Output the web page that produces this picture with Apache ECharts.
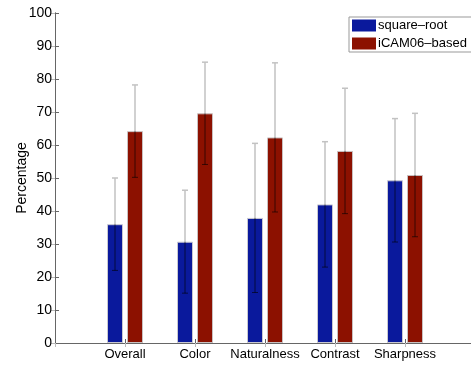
<!DOCTYPE html>
<html>
<head>
<meta charset="utf-8">
<script src="https://cdn.jsdelivr.net/npm/echarts@6/dist/echarts.min.js"></script>
<style>html,body{margin:0;padding:0;background:#fff}#c{width:471px;height:367px}</style>
</head>
<body>
<div id="c"></div>
<script>
const categories = ['Overall', 'Color', 'Naturalness', 'Contrast', 'Sharpness'];
const squareRoot = [36, 30.7, 37.9, 42, 49.3];
const squareRootErr = [14, 15.6, 22.6, 19, 18.7];
const icam = [64.2, 69.6, 62.3, 58.2, 50.9];
const icamErr = [14, 15.5, 22.6, 19, 18.7];
const yTicks = [0, 10, 20, 30, 40, 50, 60, 70, 80, 90, 100];

const FONT = 'Liberation Sans, Arial, Helvetica, sans-serif';
const AX = '#666';

const errData = [];
categories.forEach((c, i) => {
  errData.push([i + 1, squareRoot[i], squareRootErr[i], -10]);
  errData.push([i + 1, icam[i], icamErr[i], 10]);
});

function renderErr(params, api) {
  const x = api.value(0), v = api.value(1), e = api.value(2), off = api.value(3);
  const c = api.coord([x, v]);
  const hi = api.coord([x, v + e]);
  const lo = api.coord([x, v - e]);
  const px = c[0] + off;
  const grey = {stroke: '#c2c2c2', lineWidth: 1.5};
  const dark = {stroke: 'rgba(0,0,0,0.6)', lineWidth: 1};
  return {
    type: 'group',
    children: [
      {type: 'line', shape: {x1: px, y1: hi[1], x2: px, y2: c[1]}, style: grey},
      {type: 'line', shape: {x1: px - 3, y1: hi[1], x2: px + 3, y2: hi[1]}, style: grey},
      {type: 'line', shape: {x1: px, y1: c[1], x2: px, y2: lo[1]}, style: dark},
      {type: 'line', shape: {x1: px - 3, y1: lo[1], x2: px + 3, y2: lo[1]}, style: dark}
    ]
  };
}

const chart = echarts.init(document.getElementById('c'));
chart.setOption({
  animation: false,
  backgroundColor: '#fff',
  textStyle: {fontFamily: FONT},
  grid: {left: 55, right: -4, top: 13, bottom: 24, outerBoundsMode: 'none', containLabel: false},
  legend: {
    left: 349, top: 17,
    orient: 'vertical',
    icon: 'rect',
    itemWidth: 24, itemHeight: 12, itemGap: 5,
    padding: [2, 6, 2, 3],
    borderColor: '#999', borderWidth: 1,
    backgroundColor: '#fff',
    textStyle: {fontSize: 13, color: '#000', fontFamily: FONT, padding: [0, 0, 0, -3]},
    data: [
      {name: 'square–root', itemStyle: {borderWidth: 0}},
      {name: 'iCAM06–based', itemStyle: {borderWidth: 0}}
    ]
  },
  xAxis: [
    {
      type: 'value', min: 0, max: 6, interval: 1,
      axisLine: {show: true, lineStyle: {color: AX}},
      axisTick: {show: true, inside: true, length: 4, lineStyle: {color: AX}},
      splitLine: {show: false},
      axisLabel: {
        fontSize: 13, color: '#000', fontFamily: FONT, margin: 5,
        formatter: v => (v >= 1 && v <= 5) ? categories[v - 1] : ''
      }
    },
    {
      type: 'value', min: 0, max: 6, interval: 1, position: 'top',
      axisLine: {show: true, lineStyle: {color: AX}},
      axisTick: {show: true, inside: true, length: 4, lineStyle: {color: '#bbb'}},
      splitLine: {show: false},
      axisLabel: {show: false}
    }
  ],
  yAxis: [
    {
      type: 'value', min: 0, max: 100, interval: 10,
      name: 'Percentage', nameLocation: 'middle', nameGap: 26, nameMoveOverlap: false,
      nameTextStyle: {fontSize: 14, color: '#000', fontFamily: FONT},
      axisLine: {show: true, lineStyle: {color: AX}},
      axisTick: {show: true, inside: true, length: 4, lineStyle: {color: AX}},
      splitLine: {show: false},
      axisLabel: {fontSize: 14, color: '#000', fontFamily: FONT, margin: 3,
        formatter: v => yTicks.includes(v) ? String(v) : ''}
    },
    {
      type: 'value', min: 0, max: 100, interval: 10, position: 'right',
      axisLine: {show: true, lineStyle: {color: AX}},
      axisTick: {show: true, inside: true, length: 4, lineStyle: {color: '#bbb'}},
      splitLine: {show: false},
      axisLabel: {show: false}
    }
  ],
  series: [
    {
      name: 'square–root', type: 'bar', barWidth: 16, barGap: '25%',
      data: squareRoot.map((v, i) => [i + 1, v]),
      itemStyle: {color: '#0a199c', borderColor: '#c8c8d0', borderWidth: 1}
    },
    {
      name: 'iCAM06–based', type: 'bar', barWidth: 16, barGap: '25%',
      data: icam.map((v, i) => [i + 1, v]),
      itemStyle: {color: '#8c1100', borderColor: '#c8c0c0', borderWidth: 1}
    },
    {
      type: 'custom', renderItem: renderErr, data: errData,
      encode: {x: 0, y: 1}, z: 5, silent: true
    }
  ]
});
</script>
</body>
</html>
